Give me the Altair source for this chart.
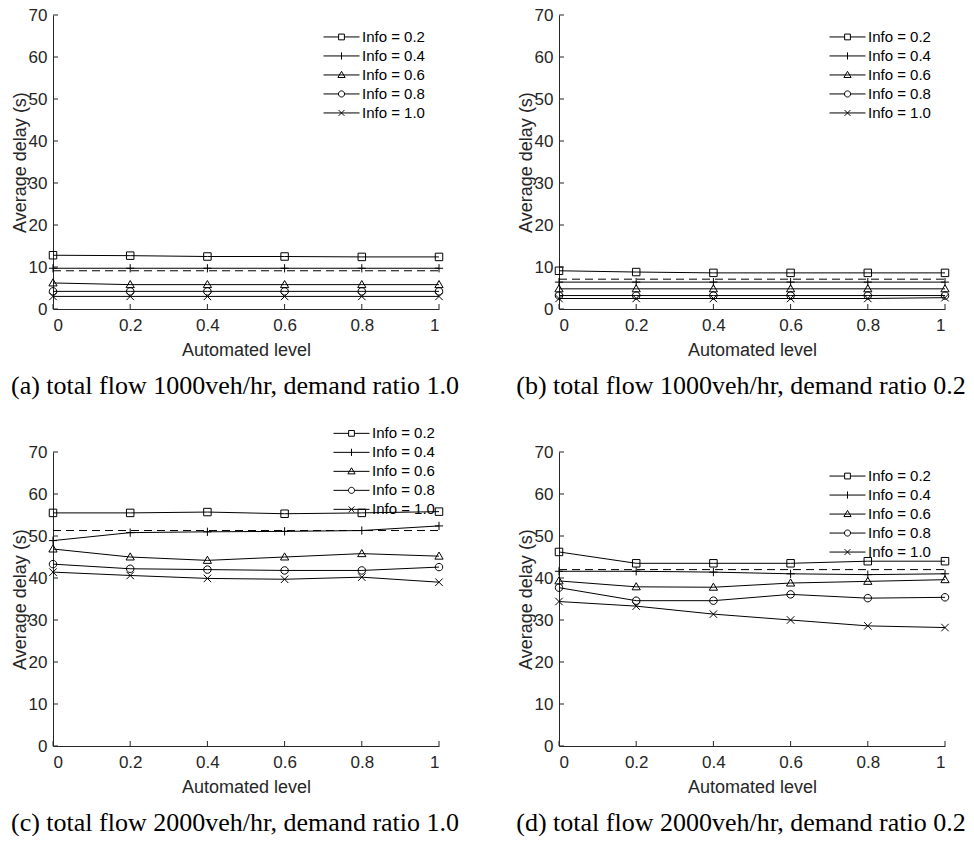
import altair as alt
import pandas as pd

X = [0, 0.2, 0.4, 0.6, 0.8, 1.0]
Y_TICKS = [0, 10, 20, 30, 40, 50, 60, 70]
SERIES = ["Info = 0.2", "Info = 0.4", "Info = 0.6", "Info = 0.8", "Info = 1.0"]

# (a) total flow 1000veh/hr, demand ratio 1.0
a_vals = [
    [12.8, 12.7, 12.5, 12.5, 12.4, 12.4],
    [9.7, 9.7, 9.7, 9.7, 9.7, 9.7],
    [6.2, 5.8, 5.8, 5.8, 5.8, 5.8],
    [4.2, 4.2, 4.2, 4.2, 4.2, 4.2],
    [3.0, 3.0, 3.0, 3.0, 3.0, 3.0],
]
a_base = 9.1
# (b) total flow 1000veh/hr, demand ratio 0.2
b_vals = [
    [9.1, 8.8, 8.6, 8.6, 8.6, 8.6],
    [6.4, 6.4, 6.4, 6.4, 6.4, 6.4],
    [4.8, 4.8, 4.8, 4.8, 4.8, 4.8],
    [3.2, 3.2, 3.2, 3.2, 3.2, 3.2],
    [2.5, 2.5, 2.5, 2.5, 2.5, 2.7],
]
b_base = 7.1
# (c) total flow 2000veh/hr, demand ratio 1.0
c_vals = [
    [55.5, 55.5, 55.7, 55.3, 55.5, 55.8],
    [48.9, 50.8, 51.0, 51.1, 51.3, 52.4],
    [46.9, 45.0, 44.2, 45.0, 45.8, 45.2],
    [43.3, 42.2, 42.0, 41.8, 41.8, 42.6],
    [41.4, 40.6, 39.9, 39.7, 40.2, 39.0],
]
c_base = 51.3
# (d) total flow 2000veh/hr, demand ratio 0.2
d_vals = [
    [46.2, 43.5, 43.5, 43.5, 44.0, 44.0],
    [41.6, 41.6, 41.4, 41.0, 40.8, 41.0],
    [39.3, 37.9, 37.8, 38.8, 39.2, 39.6],
    [37.7, 34.6, 34.6, 36.1, 35.2, 35.4],
    [34.4, 33.3, 31.4, 30.0, 28.6, 28.2],
]
d_base = 42.0

CAPTIONS = [
    "(a) total flow 1000veh/hr, demand ratio 1.0",
    "(b) total flow 1000veh/hr, demand ratio 0.2",
    "(c) total flow 2000veh/hr, demand ratio 1.0",
    "(d) total flow 2000veh/hr, demand ratio 0.2",
]

MARKERS = [
    "M-1,-1H1V1H-1Z",
    "M-1.1,0H1.1M0,-1.1V1.1",
    "M0,-1.1L1.1,0.8H-1.1Z",
    "M1,0A1,1,0,1,1,-1,0A1,1,0,1,1,1,0Z",
    "M-1,-1L1,1M-1,1L1,-1",
]
LEG_MARKERS = [
    "M-1,0H-0.16M0.16,0H1M-0.16,-0.16H0.16V0.16H-0.16Z",
    "M-1,0H1M0,-0.2V0.2",
    "M-1,0H1M0,-0.2L0.2,0.14H-0.2Z",
    "M-1,0H-0.17M0.17,0H1M0.17,0A0.17,0.17,0,1,1,-0.17,0A0.17,0.17,0,1,1,0.17,0Z",
    "M-1,0H1M-0.16,-0.16L0.16,0.16M-0.16,0.16L0.16,-0.16",
]

AX = "#262626"
W, H = 386, 294


def panel(vals, base, caption, lx, ly):
    rows = []
    for s, ys in zip(SERIES, vals):
        for xv, yv in zip(X, ys):
            rows.append({"x": xv, "delay": yv, "series": s})
    df = pd.DataFrame(rows)
    bdf = pd.DataFrame({"x": [X[0], X[-1]], "delay": [base, base]})
    xt = pd.DataFrame({"x": X})
    yt = pd.DataFrame({"delay": Y_TICKS})

    xaxis = alt.Axis(
        values=X, format="~g", title="Automated level", grid=False,
        ticks=False, labelPadding=8, titlePadding=8,
    )
    yaxis = alt.Axis(
        values=Y_TICKS, title="Average delay (s)", grid=False,
        ticks=False, labelPadding=6, titlePadding=-1,
    )
    xs = alt.Scale(domain=[0, 1], nice=False)
    ys_ = alt.Scale(domain=[0, 70], nice=False)
    xe = alt.X("x:Q", scale=xs, axis=xaxis)
    ye = alt.Y("delay:Q", scale=ys_, axis=yaxis)

    xticks = alt.Chart(xt).mark_rule(color=AX, strokeWidth=1).encode(
        x=alt.X("x:Q", scale=xs, axis=xaxis), y=alt.value(H), y2=alt.value(H - 5)
    )
    yticks = alt.Chart(yt).mark_rule(color=AX, strokeWidth=1).encode(
        y=alt.Y("delay:Q", scale=ys_, axis=yaxis), x=alt.value(0), x2=alt.value(5)
    )
    lines = alt.Chart(df).mark_line(color="black", strokeWidth=1).encode(
        x=xe, y=ye, detail="series:N"
    )
    dash = alt.Chart(bdf).mark_line(color="black", strokeWidth=1, strokeDash=[8, 5]).encode(
        x=xe, y=ye
    )
    pts = alt.Chart(df).mark_point(filled=False, color="black", size=56, strokeWidth=1, opacity=1).encode(
        x=xe, y=ye,
        shape=alt.Shape("series:N", scale=alt.Scale(domain=SERIES, range=MARKERS), legend=None),
    )
    leg = alt.Chart(df).mark_point(filled=False, color="black", opacity=0).encode(
        x=xe, y=ye,
        shape=alt.Shape(
            "series:N",
            scale=alt.Scale(domain=SERIES, range=LEG_MARKERS),
            legend=alt.Legend(
                title=None, orient="none", legendX=lx, legendY=ly,
                symbolSize=1296, symbolStrokeWidth=1, symbolStrokeColor="black",
                symbolFillColor="transparent", symbolOpacity=1,
                labelFont="Liberation Sans", labelFontSize=15, labelColor="black",
                labelOffset=2, clipHeight=18.7, rowPadding=0, padding=0,
            ),
        ),
    )
    return alt.layer(xticks, yticks, lines, dash, pts, leg).resolve_scale(shape="independent").properties(
        width=W, height=H,
        title=alt.TitleParams(
            caption, orient="bottom", anchor="middle", frame="group",
            font="Liberation Serif", fontSize=26, fontWeight="normal",
            color="black", offset=14, dx=-11,
        ),
    )


pa = panel(a_vals, a_base, CAPTIONS[0], 270, 12.6)
pb = panel(b_vals, b_base, CAPTIONS[1], 270, 12.6)
pc = panel(c_vals, c_base, CAPTIONS[2], 280, -28)
pd_ = panel(d_vals, d_base, CAPTIONS[3], 270, 14.7)

chart = alt.vconcat(
    alt.hconcat(pa, pb, spacing=120, bounds="flush"),
    alt.hconcat(pc, pd_, spacing=120, bounds="flush"),
    spacing=437, bounds="flush",
).properties(
    padding={"left": 10, "top": 6, "right": 0, "bottom": 0},
).configure_view(stroke=None).configure_axis(
    domainColor=AX, labelColor=AX, titleColor=AX,
    labelFont="Liberation Sans", titleFont="Liberation Sans",
    labelFontSize=17, titleFontSize=18, titleFontWeight="normal",
    domainWidth=1,
)

chart.save("out.html", embed_options={"renderer": "svg", "actions": False})
